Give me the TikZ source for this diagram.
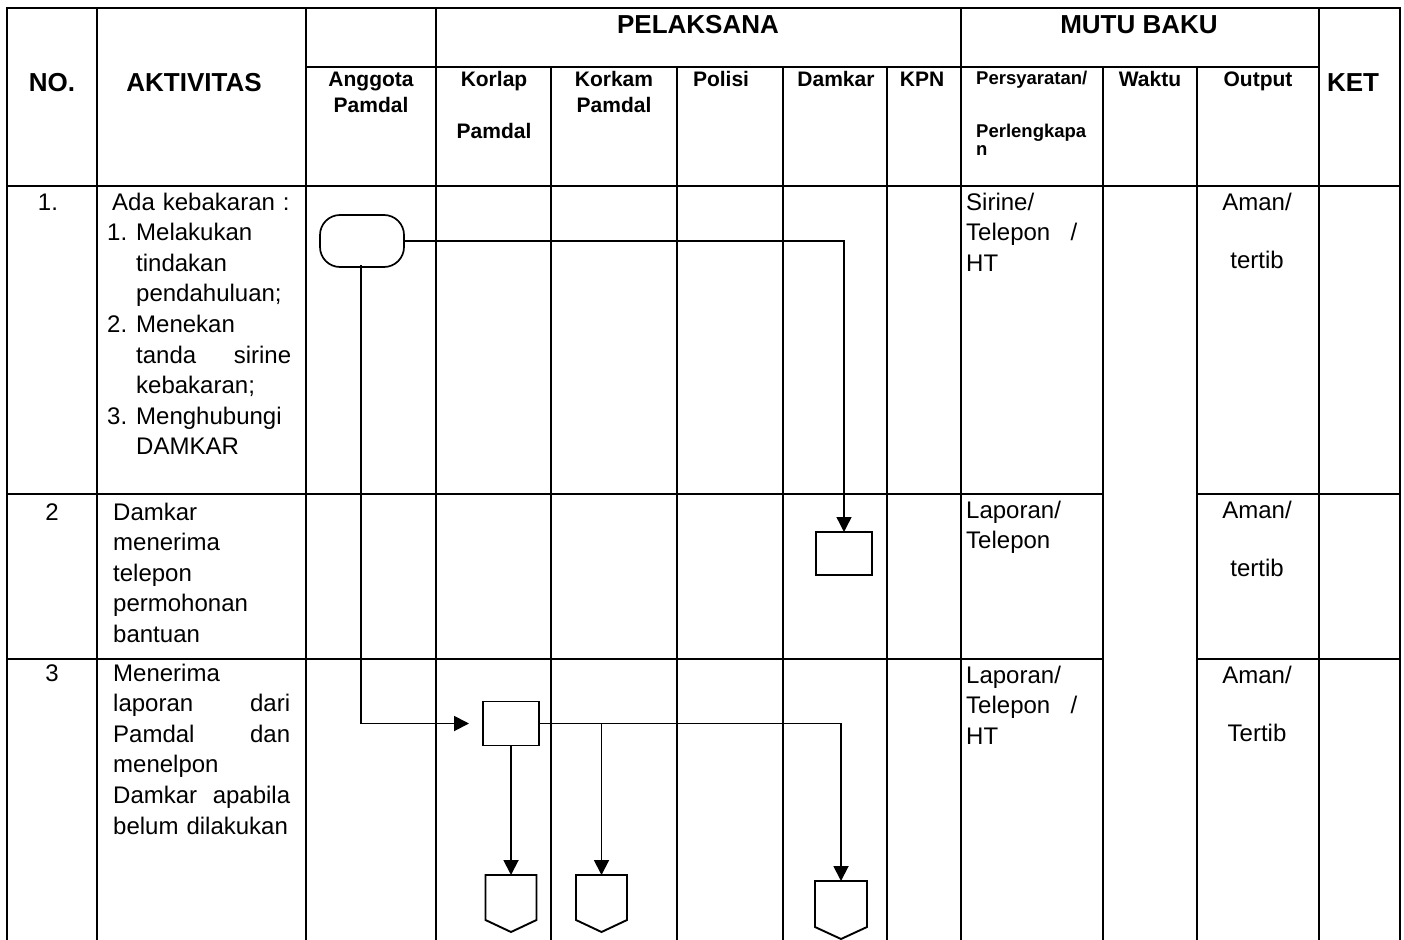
\documentclass[tikz,border=0pt]{standalone}
\usepackage{fontspec}
\setmainfont{Liberation Sans}
\usetikzlibrary{arrows.meta,calc}
\begin{document}
\begin{tikzpicture}[x=1pt,y=-1pt,
  grid/.style={line width=2.9pt,line cap=rect},
  shapeline/.style={line width=1.9pt},
  term/.style={draw,line width=1.7pt,rounded corners=20pt,minimum width=84pt,minimum height=52pt,inner sep=0pt,outer sep=0pt},
  procbox/.style={draw,line width=1.9pt,minimum width=56pt,minimum height=44pt,inner sep=0pt,outer sep=0pt},
  offbox/.style={draw=none,minimum width=51pt,minimum height=45pt,inner sep=0pt,outer sep=0pt,anchor=north},
  conn/.style={line width=1.9pt},
  connthin/.style={line width=1.4pt},
  tip/.style={-{Triangle[length=15pt,width=15pt]}},
  body/.style={font=\fontsize{24}{30.6}\selectfont,inner sep=0pt,align=left,anchor=base west},
  txt/.style={font=\fontsize{24}{30.6}\selectfont,inner sep=0pt,anchor=base},
  hb/.style={font=\fontsize{26}{30}\selectfont\bfseries,inner sep=0pt,anchor=base},
  hs/.style={font=\fontsize{21}{26}\selectfont\bfseries,inner sep=0pt,anchor=base},
  hxs/.style={font=\fontsize{18.5}{22}\selectfont\bfseries,inner sep=0pt,anchor=base west}
]
\useasboundingbox (0,0) rectangle (1404,939);
\fill[white] (0,0) rectangle (1404,939);

% ---- table grid ----
\draw[grid] (7,8) -- (1400,8);
\draw[grid] (306,67) -- (1319,67);
\draw[grid] (7,186) -- (1400,186);
\draw[grid] (7,494) -- (1103,494);
\draw[grid] (1197,494) -- (1400,494);
\draw[grid] (7,659) -- (1103,659);
\draw[grid] (1197,659) -- (1400,659);
\foreach \x in {7,97,306,436,961,1319,1400} \draw[grid] (\x,8) -- (\x,945);
\foreach \x in {551,677,783,887,1103,1197} \draw[grid] (\x,67) -- (\x,945);

% ---- header ----
\node[hb] (hno) at (52,92) {NO.};
\node[hb] (haktiv) at (194,92) {AKTIVITAS};
\node[hb] (hpel) at (698,34) {PELAKSANA};
\node[hb] (hmutu) at (1139,34) {MUTU BAKU};
\node[hb] (hket) at (1353,92) {KET};
\node[hs] (hang1) at (371,87) {Anggota};
\node[hs] (hang2) at (371,113) {Pamdal};
\node[hs] (hkorlap1) at (494,87) {Korlap};
\node[hs] (hkorlap2) at (494,139) {Pamdal};
\node[hs] (hkorkam1) at (614,87) {Korkam};
\node[hs] (hkorkam2) at (614,113) {Pamdal};
\node[hs] (hpolisi) at (721,87) {Polisi};
\node[hs] (hdamkar) at (836,87) {Damkar};
\node[hs] (hkpn) at (922,87) {KPN};
\node[hxs] (hpers1) at (976,85) {Persyaratan/};
\node[hxs] (hpers2) at (976,137) {Perlengkapa};
\node[hxs] (hpers3) at (976,155) {n};
\node[hs] (hwaktu) at (1150,87) {Waktu};
\node[hs] (houtput) at (1258,87) {Output};

% ---- rows: numbers ----
\node[txt] (n1) at (48,210) {1.};
\node[txt] (n2) at (52,520) {2};
\node[txt] (n3) at (52,681) {3};

% ---- rows: activities ----
\node[body,text width=184pt] (a1) at (107,210) {\hspace*{5pt}Ada kebakaran :\\
\makebox[29pt][l]{1.}Melakukan\\
\hspace*{29pt}tindakan\\
\hspace*{29pt}pendahuluan;\\
\makebox[29pt][l]{2.}Menekan\\
\hspace*{29pt}tanda\hfill sirine\\
\hspace*{29pt}kebakaran;\\
\makebox[29pt][l]{3.}Menghubungi\\
\hspace*{29pt}DAMKAR};
\node[body,text width=178pt] (a2) at (113,520) {Damkar\\menerima\\telepon\\permohonan\\bantuan};
\node[body,text width=177pt] (a3) at (113,681) {Menerima\\laporan\hfill dari\\Pamdal\hfill dan\\menelpon\\Damkar\hfill apabila\\belum dilakukan};

% ---- rows: persyaratan ----
\node[body,text width=111pt] (p1) at (966,210) {Sirine/\\Telepon\hfill /\\HT};
\node[body,text width=111pt] (p2) at (966,518) {Laporan/\\Telepon};
\node[body,text width=111pt] (p3) at (966,683) {Laporan/\\Telepon\hfill /\\HT};

% ---- rows: output ----
\node[txt] (o1a) at (1257,210) {Aman/};
\node[txt] (o1b) at (1257,268) {tertib};
\node[txt] (o2a) at (1257,518) {Aman/};
\node[txt] (o2b) at (1257,576) {tertib};
\node[txt] (o3a) at (1257,683) {Aman/};
\node[txt] (o3b) at (1257,741) {Tertib};

% ---- flow shapes ----
\node[term] (start) at (362,241) {};
\node[procbox,minimum height=43pt] (damkar) at (844,553.5) {};
\node[procbox] (korlap) at (511,723.5) {};
\node[offbox] (off1) at (511,875) {};
\node[offbox] (off2) at (601.5,875) {};
\node[offbox,minimum width=52pt,minimum height=46pt] (off3) at (841,881) {};
\foreach \n in {off1,off2,off3}
  \draw[shapeline,line join=miter] (\n.north west) -- (\n.north east) -- (\n.south east)
     -- ($(\n.south)+(0,12)$) -- (\n.south west) -- cycle;

% ---- connectors ----
\draw[connthin,tip] (start.east) -| (damkar.north);
\draw[conn,tip,shorten >=14pt] ([xshift=-1pt,yshift=2pt]start.south) |- (korlap.west);
\draw[conn,tip] (korlap.east) -| (off3.north);
\draw[conn,tip] (korlap.east -| off2.north) -- (off2.north);
\draw[conn,tip] (korlap.south) -- (off1.north);
\end{tikzpicture}
\end{document}
